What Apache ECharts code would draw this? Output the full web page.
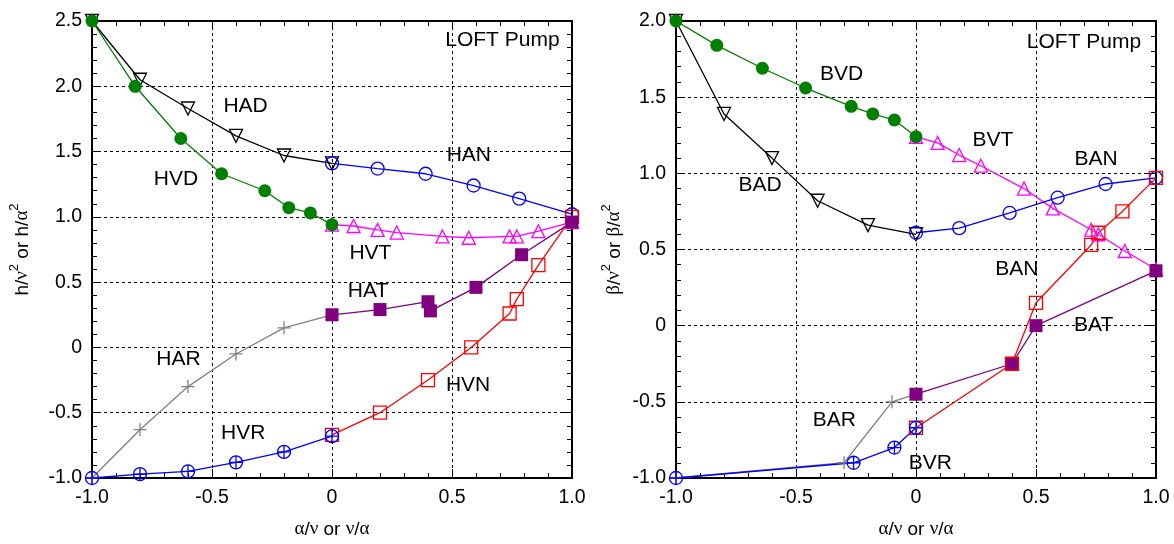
<!DOCTYPE html>
<html>
<head>
<meta charset="utf-8">
<script src="https://cdn.jsdelivr.net/npm/echarts@6/dist/echarts.min.js"></script>
<style>
html, body { margin: 0; padding: 0; background: #fff; }
#main { width: 1174px; height: 544px; }
</style>
</head>
<body>
<div id="main"></div>
<script>
// left panel, head curves (x, h/v^2 or h/a^2)
var HAD = [[-1,2.5],[-0.8,2.05],[-0.6,1.83],[-0.4,1.62],[-0.2,1.47],[0,1.41]];
var HVD = [[-1,2.5],[-0.82,2.0],[-0.63,1.6],[-0.46,1.33],[-0.28,1.2],[-0.18,1.07],[-0.09,1.03],[0,0.94]];
var HAN = [[0,1.41],[0.19,1.37],[0.39,1.33],[0.59,1.24],[0.78,1.14],[1,1.02]];
var HVT = [[0,0.94],[0.09,0.93],[0.19,0.9],[0.27,0.88],[0.46,0.85],[0.57,0.84],[0.74,0.85],[0.77,0.85],[0.86,0.89],[1,0.96]];
var HAT = [[0,0.25],[0.2,0.29],[0.4,0.35],[0.41,0.28],[0.6,0.46],[0.79,0.71],[1,0.96]];
var HVN = [[0,-0.67],[0.2,-0.5],[0.4,-0.25],[0.58,0],[0.74,0.26],[0.77,0.37],[0.86,0.63],[1,1.0]];
var HAR = [[-1,-1],[-0.8,-0.63],[-0.6,-0.3],[-0.4,-0.05],[-0.2,0.15],[0,0.25]];
var HVR = [[-1,-1],[-0.8,-0.97],[-0.6,-0.95],[-0.4,-0.88],[-0.2,-0.8],[0,-0.68]];

// right panel, torque curves (x, beta/v^2 or beta/a^2)
var BVD = [[-1,2],[-0.83,1.84],[-0.64,1.69],[-0.46,1.56],[-0.27,1.44],[-0.18,1.39],[-0.09,1.35],[0,1.24]];
var BAD = [[-1,2],[-0.8,1.39],[-0.6,1.1],[-0.41,0.82],[-0.2,0.66],[0,0.6]];
var BAN = [[0,0.61],[0.18,0.64],[0.39,0.74],[0.59,0.84],[0.79,0.93],[1,0.97]];
var BVT = [[0,1.24],[0.09,1.2],[0.18,1.12],[0.27,1.05],[0.45,0.9],[0.57,0.77],[0.73,0.63],[0.76,0.6],[0.87,0.49],[1,0.37]];
var BVN = [[0,-0.67],[0.4,-0.25],[0.5,0.15],[0.73,0.53],[0.76,0.61],[0.86,0.75],[1,0.97]];
var BAT = [[0,-0.45],[0.4,-0.25],[0.5,0],[1,0.36]];
var BAR = [[-1,-1],[-0.3,-0.9],[-0.1,-0.5],[0,-0.45]];
var BVR = [[-1,-1],[-0.26,-0.9],[-0.09,-0.8],[0,-0.67]];

// curve names placed in data coords
var leftLabels = [[-0.36,1.85,'HAD'],[-0.65,1.29,'HVD'],[0.57,1.47,'HAN'],[0.16,0.72,'HVT'],
                  [0.15,0.43,'HAT'],[-0.64,-0.09,'HAR'],[-0.37,-0.66,'HVR'],[0.567,-0.29,'HVN'],[0.71,2.35,'LOFT Pump']];
var rightLabels = [[-0.31,1.65,'BVD'],[0.32,1.22,'BVT'],[0.75,1.09,'BAN'],[-0.65,0.92,'BAD'],
                   [0.42,0.37,'BAN'],[0.74,0.0,'BAT'],[-0.34,-0.62,'BAR'],[0.06,-0.9,'BVR'],[0.7,1.86,'LOFT Pump']];

var myChart = echarts.init(document.getElementById('main'));

var PLUS = 'path://M0,5L10,5M5,0L5,10';
var CPLUS = 'path://M0,5A5,5 0 1,0 10,5A5,5 0 1,0 0,5ZM0,5L10,5M5,0L5,10';

function line(data, color, symbol, filled, gi, extra) {
    var s = {
        type: 'line', data: data, xAxisIndex: gi * 2, yAxisIndex: gi * 2,
        symbol: symbol, symbolSize: 13, showAllSymbol: true,
        lineStyle: { color: color, width: 1.3 },
        itemStyle: filled ? { color: color } : { color: 'transparent', borderColor: color, borderWidth: 1.3 },
        emphasis: { disabled: true }
    };
    for (var k in extra) s[k] = extra[k];
    return s;
}

function labels(arr, gi) {
    return {
        type: 'scatter', xAxisIndex: gi * 2, yAxisIndex: gi * 2, data: arr,
        symbolSize: 0, itemStyle: { color: '#000', opacity: 1 }, silent: true, z: 10,
        label: { show: true, position: 'inside', fontSize: 21, color: '#000', textBorderWidth: 0,
                 fontFamily: 'Liberation Sans', formatter: function (p) { return p.value[2]; } }
    };
}

function fmt(v) { return v === 0 ? '0' : v.toFixed(1); }

var tick = { show: true, inside: true, length: 9, lineStyle: { color: '#000', width: 1 } };
var minor = { show: true, splitNumber: 5, length: 5, lineStyle: { color: '#000', width: 1 } };
var frame = { show: true, onZero: false, lineStyle: { color: '#000', width: 2 } };
var grid = { show: true, lineStyle: { color: '#000', width: 1, type: [3, 3] } };
var lab = { fontSize: 19.5, color: '#000', fontFamily: 'Liberation Sans', formatter: fmt };
var rich = {
    a: { fontSize: 19, fontFamily: 'Liberation Sans', color: '#000', lineHeight: 24, verticalAlign: 'bottom' },
    g: { fontSize: 19, fontFamily: 'Liberation Serif', color: '#000', lineHeight: 24, verticalAlign: 'bottom' },
    s: { fontSize: 13, fontFamily: 'Liberation Sans', color: '#000', verticalAlign: 'top' }
};
var xName = '{g|α}{a|/}{g|ν}{a| or }{g|ν}{a|/}{g|α}';

function xAxes(gi) {
    return [
        { type: 'value', gridIndex: gi, min: -1, max: 1, interval: 0.5, position: 'bottom',
          name: xName, nameLocation: 'middle', nameGap: 37, nameTextStyle: { rich: rich },
          axisLine: frame, axisTick: tick, minorTick: minor, splitLine: grid,
          axisLabel: Object.assign({ margin: 10 }, lab) },
        { type: 'value', gridIndex: gi, min: -1, max: 1, interval: 0.5, position: 'top',
          axisLine: frame, axisTick: tick, minorTick: minor, splitLine: { show: false }, axisLabel: { show: false } }
    ];
}

function yAxes(gi, max, name, gap) {
    return [
        { type: 'value', gridIndex: gi, min: -1, max: max, interval: 0.5, position: 'left',
          name: name, nameLocation: 'middle', nameGap: gap, nameTextStyle: { rich: rich },
          axisLine: frame, axisTick: tick, minorTick: minor, splitLine: grid,
          axisLabel: Object.assign({ margin: 10 }, lab) },
        { type: 'value', gridIndex: gi, min: -1, max: max, interval: 0.5, position: 'right',
          axisLine: frame, axisTick: tick, minorTick: minor, splitLine: { show: false }, axisLabel: { show: false } }
    ];
}

var xs = xAxes(0).concat(xAxes(1));
var ys = yAxes(0, 2.5, '{a|h/}{g|ν}{s|2}{a| or h/}{g|α}{s|2}', 60)
    .concat(yAxes(1, 2, '{g|β}{a|/}{g|ν}{s|2}{a| or }{g|β}{a|/}{g|α}{s|2}', 52));

var option = {
    animation: false,
    backgroundColor: '#fff',
    grid: [
        { left: 92, right: 602, top: 21, bottom: 59 },
        { left: 676, right: 18, top: 21, bottom: 60 }
    ],
    xAxis: xs,
    yAxis: ys,
    series: [
        line(HVT, '#ff00ff', 'triangle', false, 0),
        line(HAD, '#000000', 'triangle', false, 0, { symbolRotate: 180 }),
        line(HAN, '#0000ff', 'circle', false, 0),
        line(HVD, '#008000', 'circle', true, 0),
        line(HAR, '#808080', PLUS, false, 0),
        line(HVN, '#ff0000', 'rect', false, 0),
        line(HAT, '#800080', 'rect', true, 0),
        line(HVR, '#0000ff', CPLUS, false, 0),
        labels(leftLabels, 0),

        line(BVT, '#ff00ff', 'triangle', false, 1),
        line(BAD, '#000000', 'triangle', false, 1, { symbolRotate: 180 }),
        line(BAN, '#0000ff', 'circle', false, 1),
        line(BVD, '#008000', 'circle', true, 1),
        line(BAR, '#808080', PLUS, false, 1),
        line(BAT, '#800080', 'rect', true, 1),
        line(BVN, '#ff0000', 'rect', false, 1),
        line(BVR, '#0000ff', CPLUS, false, 1),
        labels(rightLabels, 1)
    ]
};

myChart.setOption(option);
</script>
</body>
</html>
